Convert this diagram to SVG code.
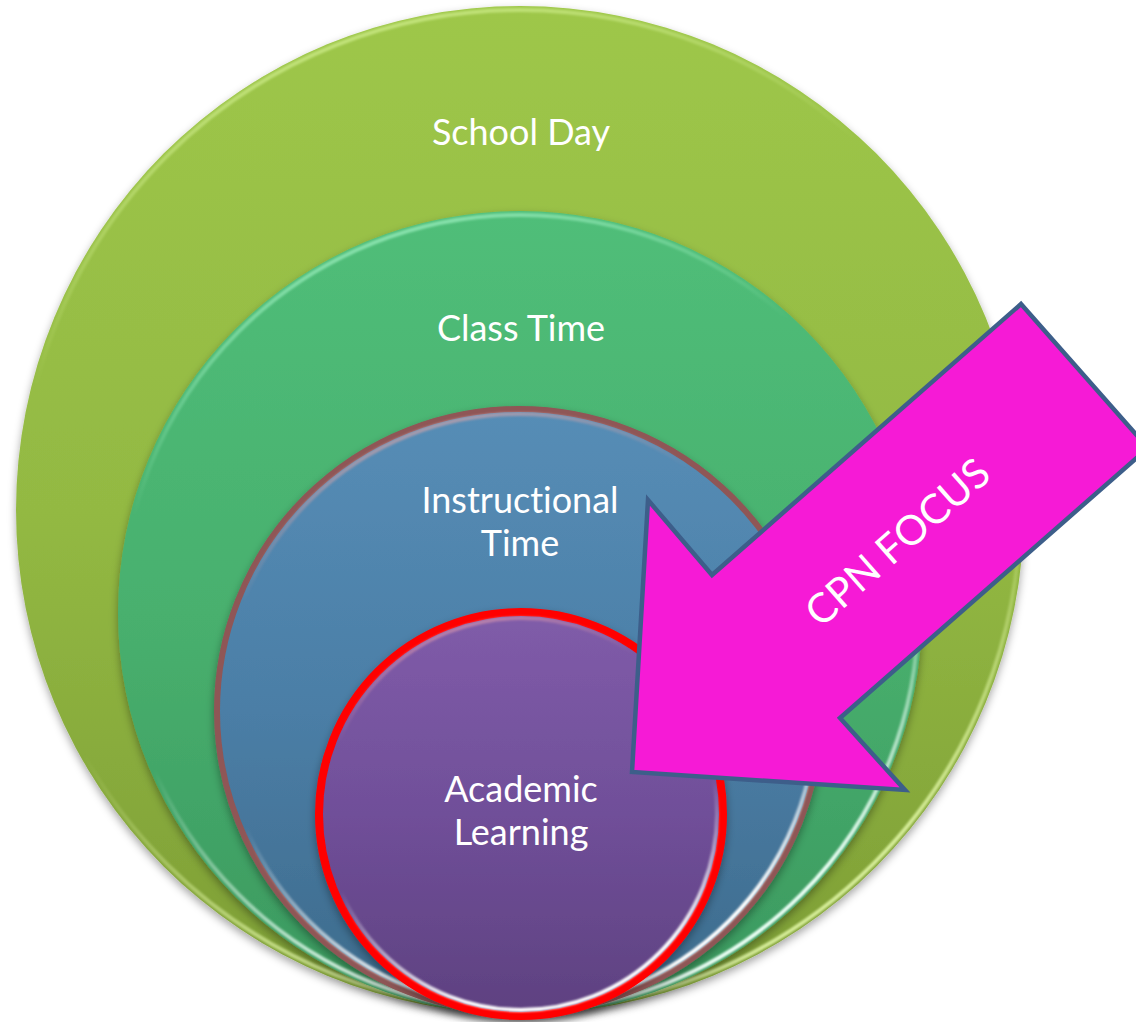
<svg xmlns="http://www.w3.org/2000/svg" width="1136" height="1022" viewBox="0 0 1136 1022">
  <style>
    .label { font-family: Lato, "Liberation Sans", sans-serif; font-size: 36px; fill: #ffffff; text-anchor: middle; font-variant-ligatures: none; font-feature-settings: "liga" 0; }
    .arrow-label { font-size: 41px; }
    .rim { fill: none; }
  </style>
  <defs>
    <linearGradient id="gDay" x1="0" y1="0" x2="0" y2="1">
      <stop offset="0" stop-color="#9ec749"/>
      <stop offset="0.5" stop-color="#93b943"/>
      <stop offset="1" stop-color="#7d9d35"/>
    </linearGradient>
    <linearGradient id="gClass" x1="0" y1="0" x2="0" y2="1">
      <stop offset="0" stop-color="#50be79"/>
      <stop offset="0.5" stop-color="#48b06e"/>
      <stop offset="1" stop-color="#3b985f"/>
    </linearGradient>
    <linearGradient id="gInstr" x1="0" y1="0" x2="0" y2="1">
      <stop offset="0" stop-color="#568db6"/>
      <stop offset="0.5" stop-color="#4b7ea6"/>
      <stop offset="1" stop-color="#3d6a8b"/>
    </linearGradient>
    <linearGradient id="gAcad" x1="0" y1="0" x2="0" y2="1">
      <stop offset="0" stop-color="#805ca9"/>
      <stop offset="0.5" stop-color="#704f99"/>
      <stop offset="1" stop-color="#5e4180"/>
    </linearGradient>
    <!-- bevel light along the rim: bright at the top and lower-left, fading elsewhere -->
    <linearGradient id="rimDay" x1="0" y1="0" x2="0.3" y2="1">
      <stop offset="0" stop-color="#d9f59a" stop-opacity="0.9"/>
      <stop offset="0.35" stop-color="#d9f59a" stop-opacity="0"/>
      <stop offset="0.7" stop-color="#eaffb0" stop-opacity="0"/>
      <stop offset="1" stop-color="#eaffb0" stop-opacity="0.8"/>
    </linearGradient>
    <linearGradient id="rimClass" x1="0" y1="0" x2="0.3" y2="1">
      <stop offset="0" stop-color="#a6f5c8" stop-opacity="0.95"/>
      <stop offset="0.35" stop-color="#a6f5c8" stop-opacity="0"/>
      <stop offset="0.65" stop-color="#eafff4" stop-opacity="0"/>
      <stop offset="1" stop-color="#eafff4" stop-opacity="1"/>
    </linearGradient>
    <linearGradient id="rimInstr" x1="0" y1="0" x2="0.3" y2="1">
      <stop offset="0" stop-color="#e7a7a7" stop-opacity="0.9"/>
      <stop offset="0.3" stop-color="#e7a7a7" stop-opacity="0"/>
      <stop offset="0.65" stop-color="#ffffff" stop-opacity="0"/>
      <stop offset="1" stop-color="#ffffff" stop-opacity="1"/>
    </linearGradient>
    <linearGradient id="rimAcad" x1="0" y1="0" x2="0.3" y2="1">
      <stop offset="0" stop-color="#ffb0b0" stop-opacity="0.7"/>
      <stop offset="0.3" stop-color="#ffb0b0" stop-opacity="0"/>
      <stop offset="0.65" stop-color="#ffffff" stop-opacity="0"/>
      <stop offset="1" stop-color="#ffffff" stop-opacity="1"/>
    </linearGradient>
    <filter id="shadow" x="-10%" y="-10%" width="120%" height="125%">
      <feDropShadow dx="0" dy="4" stdDeviation="4" flood-color="#000000" flood-opacity="0.35"/>
    </filter>
    <filter id="soft" x="-5%" y="-5%" width="110%" height="110%">
      <feGaussianBlur stdDeviation="1"/>
    </filter>
  </defs>

  <!-- outermost ring: the whole school day -->
  <g id="school-day">
    <circle cx="520" cy="510" r="504" fill="url(#gDay)" filter="url(#shadow)"/>
    <circle class="rim" cx="520" cy="510" r="500" stroke="url(#rimDay)" stroke-width="4" filter="url(#soft)"/>
    <text class="label" x="521" y="145">School Day</text>
  </g>

  <!-- class time -->
  <g id="class-time">
    <circle cx="520" cy="613" r="402" fill="url(#gClass)" filter="url(#shadow)"/>
    <circle class="rim" cx="520" cy="613" r="398" stroke="url(#rimClass)" stroke-width="4" filter="url(#soft)"/>
    <text class="label" x="521" y="341">Class Time</text>
  </g>

  <!-- instructional time -->
  <g id="instructional-time">
    <circle cx="519" cy="711" r="302" fill="url(#gInstr)" stroke="#8f5656" stroke-width="6" filter="url(#shadow)"/>
    <circle class="rim" cx="519" cy="711" r="297" stroke="url(#rimInstr)" stroke-width="4" filter="url(#soft)"/>
    <text class="label" x="520" y="513">Instructional</text>
    <text class="label" x="520" y="556">Time</text>
  </g>

  <!-- academic learning, outlined in red -->
  <g id="academic-learning">
    <circle cx="521" cy="814" r="202" fill="url(#gAcad)" stroke="#ff0000" stroke-width="8" filter="url(#shadow)"/>
    <circle class="rim" cx="521" cy="814" r="196" stroke="url(#rimAcad)" stroke-width="4" filter="url(#soft)"/>
    <text class="label" x="521" y="802">Academic</text>
    <text class="label" x="521" y="845">Learning</text>
  </g>

  <!-- block arrow pointing into the inner circles -->
  <g id="cpn-focus">
    <polygon points="1021,304 1148,448 840,718 905,790 632,772 648,500 712,575" fill="#f61ad6" stroke="#3d5e8a" stroke-width="4.5" stroke-linejoin="miter"/>
    <text class="label arrow-label" transform="translate(907,553) rotate(-41.3)" x="0" y="0">CPN FOCUS</text>
  </g>
</svg>
